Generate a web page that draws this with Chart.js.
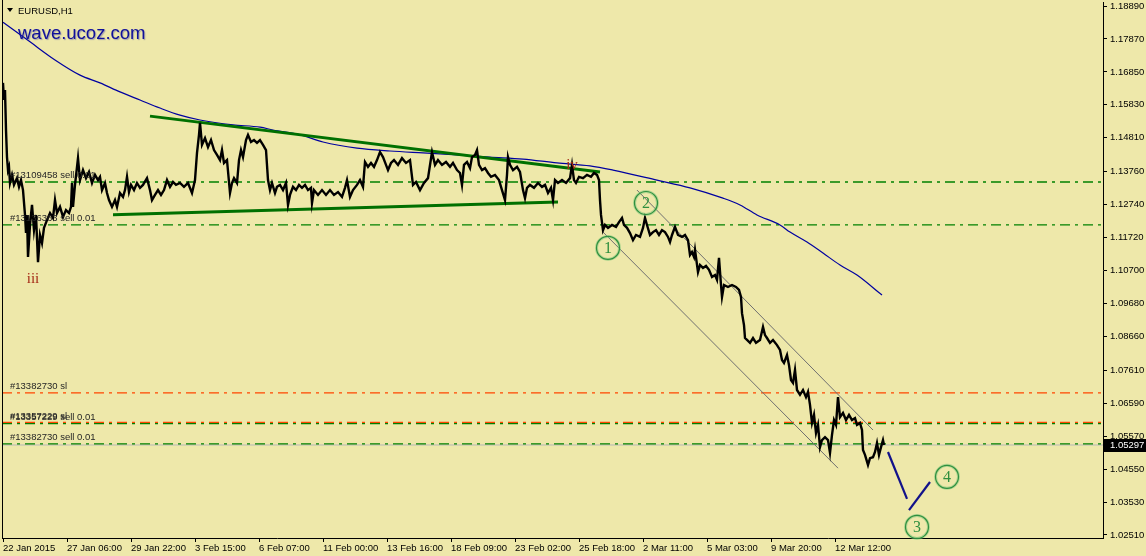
<!DOCTYPE html>
<html>
<head>
<meta charset="utf-8">
<title>EURUSD,H1</title>
<script src="https://cdn.jsdelivr.net/npm/chart.js@4.4.0/dist/chart.umd.min.js"></script>
<style>
  html, body { margin: 0; padding: 0; background: #eee8aa; }
  #wrap { position: relative; width: 1146px; height: 556px; }
</style>
</head>
<body>
<div id="wrap"><canvas id="eurusdChart" width="1146" height="556"></canvas></div>
<script>
'use strict';

/* values, x = bar number (one pixel per hourly bar) */
const xTickIdx = [1, 65, 129, 193, 257, 321, 385, 449, 513, 577, 641, 705, 769, 833];
const xTickLabels = ['22 Jan 2015', '27 Jan 06:00', '29 Jan 22:00', '3 Feb 15:00', '6 Feb 07:00',
  '11 Feb 00:00', '13 Feb 16:00', '18 Feb 09:00', '23 Feb 02:00', '25 Feb 18:00',
  '2 Mar 11:00', '5 Mar 03:00', '9 Mar 20:00', '12 Mar 12:00'];
const yTickVals = [1.18890, 1.17870, 1.16850, 1.15830, 1.14810, 1.13760, 1.12740, 1.11720, 1.10700,
  1.09680, 1.08660, 1.07610, 1.06590, 1.05570, 1.04550, 1.03530, 1.02510];
const xMax = 1101;
const yMin = 1.02417;
const yMax = 1.19014;

const barIdx = [
  1, 2, 3, 4, 5, 6, 7, 8, 10, 12,
  15, 17, 19, 21, 23, 24, 25, 26, 28, 30,
  32, 34, 36, 38, 40, 42, 45, 48, 51, 53,
  55, 58, 61, 64, 67, 69, 70, 71, 73, 76,
  78, 81, 84, 87, 90, 93, 96, 98, 100, 103,
  105, 107, 110, 113, 115, 118, 121, 123, 125, 127,
  129, 132, 135, 138, 141, 145, 148, 150, 153, 156,
  159, 162, 165, 168, 171, 174, 178, 182, 186, 190,
  193, 195, 197, 198, 200, 203, 206, 209, 212, 215,
  218, 220, 222, 225, 228, 230, 232, 235, 237, 239,
  241, 244, 246, 249, 252, 255, 258, 261, 264, 266,
  268, 270, 273, 275, 278, 281, 284, 286, 288, 291,
  294, 297, 300, 303, 306, 309, 310, 312, 316, 320,
  324, 328, 332, 336, 340, 343, 345, 348, 351, 355,
  358, 361, 363, 366, 369, 372, 375, 378, 381, 384,
  386, 389, 392, 396, 400, 404, 408, 411, 414, 418,
  422, 426, 430, 433, 436, 440, 444, 448, 451, 455,
  458, 460, 462, 465, 468, 470, 473, 475, 477, 480,
  483, 486, 489, 493, 497, 500, 503, 505, 506, 508,
  511, 515, 518, 521, 523, 525, 528, 532, 536, 540,
  543, 546, 549, 551, 553, 556, 560, 564, 568, 570,
  572, 574, 577, 581, 585, 589, 592, 595, 597, 598,
  599, 601, 603, 606, 610, 614, 617, 620, 622, 625,
  628, 631, 634, 638, 641, 643, 645, 648, 651, 654,
  657, 660, 663, 666, 668, 670, 673, 676, 680, 683,
  686, 688, 690, 692, 693, 696, 698, 701, 704, 707,
  710, 713, 715, 717, 719, 720, 722, 726, 730, 734,
  737, 739, 740, 742, 743, 745, 748, 751, 754, 758,
  761, 763, 765, 768, 771, 775, 778, 780, 782, 785,
  787, 789, 791, 793, 795, 798, 801, 804, 806, 808,
  810, 812, 814, 816, 818, 820, 823, 826, 828, 830,
  832, 834, 836, 838, 841, 844, 847, 850, 853, 855,
  858, 860, 861, 863, 866, 868, 871, 873, 875, 877,
  879, 881, 882
];
const barPrice = [
  1.1651, 1.1598, 1.1629, 1.1505, 1.1421, 1.1381, 1.1391, 1.1341, 1.1366, 1.1335,
  1.1356, 1.1329, 1.1350, 1.1319, 1.1242, 1.1186, 1.1242, 1.1112, 1.1211, 1.1273,
  1.1195, 1.1242, 1.1096, 1.1180, 1.1155, 1.1202, 1.1226, 1.1248, 1.1233, 1.1288,
  1.1248, 1.1267, 1.1236, 1.1257, 1.1248, 1.1267, 1.1341, 1.1267, 1.1335, 1.1418,
  1.1350, 1.1381, 1.1356, 1.1375, 1.1341, 1.1366, 1.1350, 1.1360, 1.1319, 1.1341,
  1.1310, 1.1288, 1.1267, 1.1288, 1.1267, 1.1310, 1.1298, 1.1319, 1.1360, 1.1313,
  1.1335, 1.1319, 1.1341, 1.1326, 1.1335, 1.1356, 1.1319, 1.1288, 1.1304, 1.1319,
  1.1304, 1.1319, 1.1350, 1.1329, 1.1344, 1.1335, 1.1341, 1.1329, 1.1341, 1.1310,
  1.1350, 1.1434, 1.1490, 1.1527, 1.1459, 1.1480, 1.1452, 1.1474, 1.1443, 1.1428,
  1.1412, 1.1443, 1.1403, 1.1412, 1.1310, 1.1341, 1.1356, 1.1341, 1.1412, 1.1443,
  1.1421, 1.1474, 1.1490, 1.1468, 1.1474, 1.1465, 1.1474, 1.1459, 1.1443, 1.1350,
  1.1319, 1.1341, 1.1310, 1.1329, 1.1335, 1.1319, 1.1341, 1.1273, 1.1304, 1.1329,
  1.1319, 1.1335, 1.1326, 1.1335, 1.1319, 1.1326, 1.1279, 1.1319, 1.1304, 1.1319,
  1.1304, 1.1319, 1.1304, 1.1313, 1.1298, 1.1326, 1.1350, 1.1298, 1.1319, 1.1335,
  1.1350, 1.1329, 1.1406, 1.1391, 1.1403, 1.1391, 1.1412, 1.1437, 1.1421, 1.1397,
  1.1381, 1.1403, 1.1412, 1.1397, 1.1418, 1.1403, 1.1412, 1.1335, 1.1344, 1.1319,
  1.1341, 1.1356, 1.1437, 1.1397, 1.1412, 1.1397, 1.1406, 1.1391, 1.1403, 1.1381,
  1.1372, 1.1335, 1.1397, 1.1406, 1.1387, 1.1421, 1.1428, 1.1443, 1.1397, 1.1381,
  1.1387, 1.1372, 1.1360, 1.1366, 1.1350, 1.1319, 1.1288, 1.1366, 1.1421, 1.1397,
  1.1381, 1.1391, 1.1375, 1.1319, 1.1294, 1.1326, 1.1335, 1.1326, 1.1341, 1.1329,
  1.1335, 1.1310, 1.1326, 1.1288, 1.1350, 1.1341, 1.1350, 1.1341, 1.1356, 1.1397,
  1.1350, 1.1341, 1.1360, 1.1356, 1.1366, 1.1360, 1.1372, 1.1366, 1.1350, 1.1288,
  1.1242, 1.1195, 1.1211, 1.1202, 1.1211, 1.1205, 1.1220, 1.1233, 1.1211, 1.1202,
  1.1186, 1.1164, 1.1180, 1.1174, 1.1202, 1.1233, 1.1211, 1.1180, 1.1189, 1.1195,
  1.1180, 1.1195, 1.1189, 1.1174, 1.1158, 1.1180, 1.1205, 1.1180, 1.1174, 1.1180,
  1.1164, 1.1118, 1.1127, 1.1112, 1.1134, 1.1065, 1.1087, 1.1078, 1.1084, 1.1072,
  1.1050, 1.1056, 1.1041, 1.1109, 1.1025, 1.0988, 1.1025, 1.1019, 1.1025, 1.1019,
  1.1010, 1.0988, 1.0938, 1.0901, 1.0861, 1.0855, 1.0846, 1.0861, 1.0846, 1.0855,
  1.0895, 1.0870, 1.0861, 1.0846, 1.0855, 1.0839, 1.0824, 1.0793, 1.0784, 1.0808,
  1.0777, 1.0731, 1.0722, 1.0762, 1.0700, 1.0685, 1.0700, 1.0678, 1.0694, 1.0654,
  1.0598, 1.0623, 1.0567, 1.0592, 1.0523, 1.0545, 1.0554, 1.0545, 1.0505, 1.0561,
  1.0607, 1.0592, 1.0678, 1.0616, 1.0629, 1.0607, 1.0623, 1.0607, 1.0613, 1.0592,
  1.0598, 1.0576, 1.0514, 1.0499, 1.0468, 1.0489, 1.0492, 1.0508, 1.0536, 1.0499,
  1.0523, 1.0545, 1.0530
];

// moving average (blue)
const maIdx = [1, 28, 53, 78, 98, 118, 138, 158, 178, 198, 231, 258, 271, 298, 321, 355, 388, 421,
  455, 488, 521, 555, 588, 611, 655, 688, 721, 738, 755, 778, 788, 805, 821, 838, 855, 880];
const maVal = [1.1839, 1.1778, 1.1722, 1.1675, 1.1651, 1.1623, 1.1598, 1.1573, 1.1551, 1.1536,
  1.1521, 1.1514, 1.1505, 1.1490, 1.1468, 1.1449, 1.1440, 1.1434, 1.1428, 1.1421, 1.1415, 1.1403,
  1.1394, 1.1381, 1.1350, 1.1326, 1.1294, 1.1273, 1.1242, 1.1211, 1.1189, 1.1158, 1.1124, 1.1087,
  1.1056, 1.0994];

// triangle, channel and wave projection lines
const triUpperIdx = [148, 598];
const triUpperVal = [1.1548, 1.1375];
const triLowerIdx = [111, 556];
const triLowerVal = [1.1243, 1.1282];
const chanLowerIdx = [601, 836];
const chanLowerVal = [1.1189, 1.0458];
const chanUpperIdx = [635, 871];
const chanUpperVal = [1.1319, 1.0576];
const projDownIdx = [886, 905];
const projDownVal = [1.0508, 1.0363];
const projUpIdx = [907, 928];
const projUpVal = [1.0328, 1.0415];

// order levels
const levelNames = ['#13109458 sell 0.01', '#13136363 sell 0.01', '#13382730 sl',
  '#13357229 sl', '#13357229 sell 0.01', '#13382730 sell 0.01'];
const levelPrices = [1.1344, 1.1211, 1.0691, 1.0600, 1.0596, 1.0533];
const bidPrice = 1.05297;

// wave marks
const waveNames = ['1', '2', '3', '4'];
const waveIdx = [606, 644, 915, 945];
const wavePrice = [1.1140, 1.1279, 1.0276, 1.0431];
const romanNames = ['iii', 'iv'];
const romanIdx = [31, 570];
const romanPrice = [1.1044, 1.1397];

const pts = (xs, ys) => xs.map((x, i) => ({ x, y: ys[i] }));

function lineSet(label, xs, ys, color, width, extra) {
  return Object.assign({
    label,
    data: pts(xs, ys),
    borderColor: color,
    borderWidth: width,
    pointRadius: 0,
    fill: false,
    tension: 0
  }, extra || {});
}

const datasets = [
  lineSet('EURUSD', barIdx, barPrice, '#000000', 2.4, { order: 0 }),
  lineSet('MA', maIdx, maVal, '#0000a0', 1.2, { order: 2, tension: 0.4, cubicInterpolationMode: 'monotone' }),
  lineSet('tri upper', triUpperIdx, triUpperVal, '#007000', 3, { order: 1 }),
  lineSet('tri lower', triLowerIdx, triLowerVal, '#007000', 3, { order: 1 }),
  lineSet('chan lower', chanLowerIdx, chanLowerVal, '#707070', 1, { order: 3 }),
  lineSet('chan upper', chanUpperIdx, chanUpperVal, '#707070', 1, { order: 3 }),
  lineSet('wave 3', projDownIdx, projDownVal, '#12128a', 2.2, { order: 1 }),
  lineSet('wave 4', projUpIdx, projUpVal, '#12128a', 2.2, { order: 1 }),
  lineSet('bid', [0, xMax], [bidPrice, bidPrice], '#b8b8b8', 1, { order: 6 })
];
levelPrices.forEach((p, i) => {
  const isSl = / sl$/.test(levelNames[i]);
  datasets.push(lineSet(levelNames[i], [0, xMax], [p, p], isSl ? '#ff4500' : '#008000', 1.3,
    { order: 5, borderDash: [10, 5, 3, 5] }));
});

const mtOverlay = {
  id: 'mtOverlay',
  beforeDraw(chart) {
    const ctx = chart.ctx;
    ctx.save();
    ctx.fillStyle = '#eee8aa';
    ctx.fillRect(0, 0, chart.width, chart.height);
    ctx.restore();
  },
  afterDatasetsDraw(chart) {
    const { ctx, scales: { x, y } } = chart;
    ctx.save();

    // order descriptions
    ctx.font = '9.5px "Liberation Sans"';
    ctx.fillStyle = '#262626';
    ctx.textAlign = 'left';
    ctx.textBaseline = 'bottom';
    levelNames.forEach((n, i) => {
      ctx.fillText(n, 10, y.getPixelForValue(levelPrices[i]) - 1.5);
    });

    // circled wave numbers
    waveNames.forEach((n, i) => {
      const px = x.getPixelForValue(waveIdx[i]);
      const py = y.getPixelForValue(wavePrice[i]);
      ctx.beginPath();
      ctx.arc(px, py, 11.5, 0, Math.PI * 2);
      ctx.strokeStyle = 'rgba(120,200,120,0.5)';
      ctx.lineWidth = 3;
      ctx.stroke();
      ctx.strokeStyle = '#2f8f3f';
      ctx.lineWidth = 1.2;
      ctx.stroke();
      ctx.fillStyle = '#2f8f3f';
      ctx.font = '16px "Liberation Serif"';
      ctx.textAlign = 'center';
      ctx.textBaseline = 'middle';
      ctx.fillText(n, px, py + 1);
    });

    // roman wave degree labels
    ctx.font = '15px "Liberation Serif"';
    ctx.fillStyle = '#a52a16';
    romanNames.forEach((n, i) => {
      ctx.fillText(n, x.getPixelForValue(romanIdx[i]), y.getPixelForValue(romanPrice[i]));
    });
    ctx.restore();
  },
  afterDraw(chart) {
    const { ctx, chartArea, scales: { y } } = chart;
    ctx.save();

    // left frame
    ctx.strokeStyle = '#000';
    ctx.lineWidth = 1;
    ctx.beginPath();
    ctx.moveTo(chartArea.left + 0.5, 0);
    ctx.lineTo(chartArea.left + 0.5, chartArea.bottom);
    ctx.stroke();

    // bid price box
    const by = Math.round(y.getPixelForValue(bidPrice));
    ctx.fillStyle = '#000';
    ctx.fillRect(chartArea.right + 1, by - 6, chart.width - chartArea.right - 1, 13);
    ctx.fillStyle = '#fff';
    ctx.font = '9.5px "Liberation Sans"';
    ctx.textAlign = 'left';
    ctx.textBaseline = 'middle';
    ctx.fillText(bidPrice.toFixed(5), chartArea.right + 7, by + 0.5);

    // symbol caption
    ctx.fillStyle = '#000';
    ctx.beginPath();
    ctx.moveTo(7, 8);
    ctx.lineTo(13, 8);
    ctx.lineTo(10, 12);
    ctx.closePath();
    ctx.fill();
    ctx.fillText('EURUSD,H1', 18, 11);

    // watermark
    ctx.font = '18.5px "Liberation Sans"';
    ctx.textBaseline = 'alphabetic';
    ctx.shadowColor = 'rgba(70,70,170,0.45)';
    ctx.shadowOffsetX = 1;
    ctx.shadowOffsetY = 1;
    ctx.shadowBlur = 1;
    ctx.fillStyle = '#10109a';
    ctx.fillText('wave.ucoz.com', 18, 39);
    ctx.restore();
  }
};

Chart.defaults.font.family = '"Liberation Sans", Arial, sans-serif';
Chart.defaults.font.size = 9.5;
Chart.defaults.color = '#000';

const eurusdChart = new Chart(document.getElementById('eurusdChart'), {
  type: 'line',
  data: { datasets },
  plugins: [mtOverlay],
  options: {
    responsive: false,
    animation: false,
    devicePixelRatio: 1,
    events: [],
    layout: { padding: { left: 2, top: 2, right: 0, bottom: 0 } },
    plugins: { legend: { display: false }, tooltip: { enabled: false } },
    scales: {
      x: {
        type: 'linear',
        min: 0,
        max: xMax,
        afterBuildTicks: s => { s.ticks = xTickIdx.map(v => ({ value: v })); },
        afterFit: s => { s.height = 18; s.paddingLeft = 0; s.paddingRight = 0; },
        grid: { drawOnChartArea: false, drawTicks: true, tickLength: 4, color: '#000' },
        border: { display: true, color: '#000', width: 1 },
        ticks: {
          autoSkip: false, maxRotation: 0, minRotation: 0, align: 'start', padding: 1,
          callback: (v, i) => xTickLabels[i]
        }
      },
      y: {
        type: 'linear',
        position: 'right',
        min: yMin,
        max: yMax,
        afterBuildTicks: s => { s.ticks = yTickVals.map(v => ({ value: v })); },
        afterFit: s => { s.width = 43; s.paddingTop = 0; s.paddingBottom = 0; },
        grid: { drawOnChartArea: false, drawTicks: true, tickLength: 4, color: '#000' },
        border: { display: true, color: '#000', width: 1 },
        ticks: { autoSkip: false, padding: 3, callback: v => v.toFixed(5) }
      }
    }
  }
});
</script>
</body>
</html>
